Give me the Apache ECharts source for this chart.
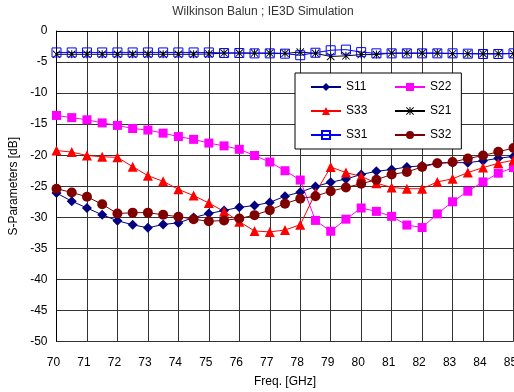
<!DOCTYPE html>
<html>
<head>
<meta charset="utf-8">
<script src="https://cdn.jsdelivr.net/npm/echarts@6/dist/echarts.min.js"></script>
<style>
html,body{margin:0;padding:0;background:#fff;}
#chart{width:514px;height:392px;}
</style>
</head>
<body>
<div id="chart"></div>
<script>
const freq = [70,70.5,71,71.5,72,72.5,73,73.5,74,74.5,75,75.5,76,76.5,77,77.5,78,78.5,79,79.5,80,80.5,81,81.5,82,82.5,83,83.5,84,84.5,85];
const xTicks = [70,71,72,73,74,75,76,77,78,79,80,81,82,83,84,85];
const yTicks = [0,-5,-10,-15,-20,-25,-30,-35,-40,-45,-50];

const s11 = [-26.1,-27.4,-28.5,-29.6,-30.55,-31.2,-31.7,-31.15,-30.9,-30.05,-29.4,-28.9,-28.4,-28.1,-27.6,-26.6,-25.95,-25.05,-24.35,-23.85,-23.1,-22.6,-22.3,-21.9,-21.7,-21.3,-21.2,-21.2,-20.9,-20.5,-20.2];
const s22 = [-13.6,-13.95,-14.3,-14.8,-15.2,-15.7,-15.95,-16.45,-17.0,-17.45,-18.05,-18.5,-19.05,-20.05,-21.1,-22.5,-24.0,-30.5,-32.25,-30.3,-28.5,-29.05,-29.85,-31.25,-31.65,-29.45,-27.5,-25.8,-24.3,-22.9,-22.0];
const s33 = [-19.25,-19.5,-20.05,-20.25,-20.35,-21.85,-23.3,-24.2,-25.5,-26.5,-27.7,-29.05,-30.7,-32.2,-32.35,-32.05,-31.2,-26.1,-21.9,-22.8,-23.4,-24.5,-25.2,-25.4,-25.4,-24.3,-23.8,-22.8,-22.0,-21.3,-20.8];
const s21 = [-3.75,-3.75,-3.75,-3.75,-3.75,-3.75,-3.75,-3.75,-3.75,-3.75,-3.7,-3.55,-3.55,-3.55,-3.55,-3.6,-3.4,-3.6,-4.1,-4.0,-3.8,-3.8,-3.55,-3.55,-3.55,-3.55,-3.65,-3.65,-3.65,-3.65,-3.65];
const s31 = [-3.45,-3.45,-3.45,-3.45,-3.45,-3.45,-3.45,-3.45,-3.45,-3.45,-3.45,-3.55,-3.55,-3.6,-3.6,-3.65,-3.9,-3.5,-3.1,-3.0,-3.4,-3.6,-3.6,-3.6,-3.6,-3.6,-3.6,-3.65,-3.7,-3.7,-3.6];
const s32 = [-25.4,-26.0,-26.7,-27.9,-29.4,-29.25,-29.25,-29.6,-29.9,-30.3,-30.65,-30.5,-30.2,-29.65,-28.85,-27.8,-27.0,-26.6,-25.8,-25.2,-24.6,-23.95,-23.1,-22.7,-21.9,-21.3,-21.1,-20.55,-20.05,-19.45,-18.85];

const FONT = 'Liberation Sans';
const starPath = 'path://M4.4,0L5.6,0L5.6,10L4.4,10Z M0,0.8L0.8,0L10,9.2L9.2,10Z M9.2,0L10,0.8L0.8,10L0,9.2Z M3.5,3.5L6.5,3.5L6.5,6.5L3.5,6.5Z';

function pairs(arr){ return freq.map((f,i)=>[f, arr[i]]); }

function mkSeries(name, data, color, symbol, size, extraItem){
  return {
    name: name,
    type: 'line',
    data: pairs(data),
    symbol: symbol,
    symbolSize: size,
    showSymbol: true,
    showAllSymbol: true,
    lineStyle: {color: color, width: 1},
    itemStyle: Object.assign({color: color}, extraItem || {}),
    emphasis: {disabled: true},
    clip: false,
    z: 3
  };
}

const chart = echarts.init(document.getElementById('chart'), null, {renderer: 'canvas'});
chart.setOption({
  animation: false,
  backgroundColor: '#fff',
  title: {
    text: 'Wilkinson Balun ; IE3D Simulation',
    left: 263,
    top: 6,
    padding: 0,
    textAlign: 'center',
    textStyle: {fontFamily: FONT, fontSize: 12, fontWeight: 'normal', color: '#333'}
  },
  grid: {left: 56.5, right: 0.5, top: 31, bottom: 50.5, containLabel: false, outerBoundsMode: 'none'},
  xAxis: {
    type: 'value', min: xTicks[0], max: xTicks[xTicks.length-1], interval: 1,
    name: 'Freq. [GHz]', nameLocation: 'middle', nameGap: 34,
    nameTextStyle: {fontFamily: FONT, fontSize: 12, color: '#000'},
    axisLine: {show: true, lineStyle: {color: '#000', width: 1}},
    axisTick: {show: false},
    axisLabel: {fontFamily: FONT, fontSize: 12, color: '#000', margin: 15, padding: [0, 6, 0, 0],
      showMinLabel: true, showMaxLabel: true, hideOverlap: false},
    splitLine: {show: true, lineStyle: {color: '#333', width: 1}}
  },
  yAxis: {
    type: 'value', min: yTicks[yTicks.length-1], max: yTicks[0], interval: 5,
    name: 'S-Parameters [dB]', nameLocation: 'middle', nameGap: 29,
    nameTextStyle: {fontFamily: FONT, fontSize: 12, color: '#000'},
    axisLine: {show: true, onZero: false, lineStyle: {color: '#000', width: 1}},
    axisTick: {show: false},
    axisLabel: {fontFamily: FONT, fontSize: 12, color: '#000', margin: 9},
    splitLine: {show: true, lineStyle: {color: '#333', width: 1}}
  },
  legend: [
    {
      data: ['S11', 'S33', 'S31'],
      orient: 'vertical',
      left: 295, top: 73,
      padding: [8, 94, 8, 15],
      itemGap: 12, itemWidth: 30, itemHeight: 10,
      borderColor: '#000', borderWidth: 1, backgroundColor: '#fff',
      textStyle: {fontFamily: FONT, fontSize: 12, color: '#000'},
      selectedMode: false, z: 5
    },
    {
      data: ['S22', 'S21', 'S32'],
      orient: 'vertical',
      left: 394, top: 81,
      padding: 0,
      itemGap: 12, itemWidth: 30, itemHeight: 10,
      textStyle: {fontFamily: FONT, fontSize: 12, color: '#000'},
      selectedMode: false, z: 6
    }
  ],
  series: [
    mkSeries('S11', s11, '#000080', 'diamond', 10),
    mkSeries('S22', s22, '#ff00ff', 'rect', 9),
    mkSeries('S33', s33, '#ff0000', 'triangle', 10),
    mkSeries('S21', s21, '#000000', starPath, 8),
    mkSeries('S31', s31, '#0000ff', 'rect', 9, {color: 'rgba(255,255,255,0)', borderColor: '#0000ff', borderWidth: 1}),
    mkSeries('S32', s32, '#800000', 'circle', 10)
  ]
});
</script>
</body>
</html>
